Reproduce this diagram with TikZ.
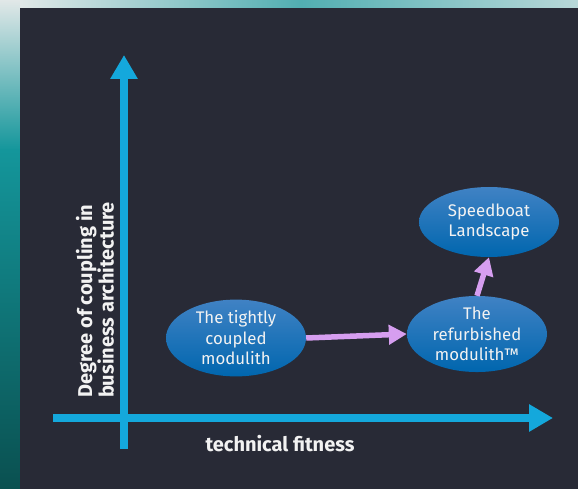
\documentclass[tikz,border=0pt]{standalone}
\usepackage{fontspec}
\setmainfont{Fira Sans}
\usetikzlibrary{shapes.geometric,arrows.meta}
\definecolor{slide}{RGB}{40,42,54}
\definecolor{axis}{RGB}{20,168,220}
\definecolor{violet}{RGB}{214,158,240}
\definecolor{elltop}{RGB}{64,130,196}
\definecolor{ellbot}{RGB}{0,102,174}
\definecolor{txt}{RGB}{242,242,242}
\definecolor{tealA}{RGB}{225,232,232}
\definecolor{tealB}{RGB}{20,150,155}
\definecolor{tealC}{RGB}{10,80,80}
\tikzset{
  bubble/.style={ellipse, minimum width=140pt, minimum height=70pt, inner sep=0pt,
    top color=elltop, bottom color=ellbot, text=txt, align=center,
    font=\fontsize{16.8}{20.5}\selectfont},
  axisline/.style={draw=axis, line width=8pt, -{Triangle[length=24pt,width=26pt]}},
  flow/.style={draw=violet, line width=5.5pt, -{Triangle[length=18pt,width=19pt]}},
  axlabel/.style={text=txt, font=\fontsize{20}{21.5}\selectfont\bfseries, inner sep=0pt}
}
\begin{document}
\begin{tikzpicture}[x=1pt,y=-1pt]
\useasboundingbox (0,0) rectangle (578,489);
% background image strips
\shade[top color=tealA, bottom color=tealB] (0,0) rectangle (20,150);
\shade[top color=tealB, bottom color=tealC] (0,150) rectangle (20,489);
\shade[left color=tealA, right color=tealB!70!tealA] (20,0) rectangle (300,8);
\shade[left color=tealB!70!tealA, right color=tealA!80!tealB] (300,0) rectangle (578,8);
% slide
\fill[slide] (20,8) rectangle (578,489);
% axes
\coordinate (ybot) at (124,449);
\coordinate (ytop) at (124,55);
\coordinate (xleft) at (53,418);
\coordinate (xright) at (553,418);
\draw[axisline] (ybot) -- (ytop);
\draw[axisline] (xleft) -- (xright);
\node[axlabel] (xl) at (280,444) {technical fitness};
\node[axlabel, rotate=90, align=left] (yl) at (95,300) {Degree of coupling in\\business architecture};
% bubbles
\node[bubble] (e1) at (236,338) {The tightly\\coupled\\modulith};
\node[bubble] (e2) at (477,334) {The\\refurbished\\modulith™};
\node[bubble] (e3) at (489,222) {Speedboat\\Landscape};
\draw[flow] (e1.east) -- (e2.west);
\draw[flow] (e2.north) -- (e3.south);
\end{tikzpicture}
\end{document}
